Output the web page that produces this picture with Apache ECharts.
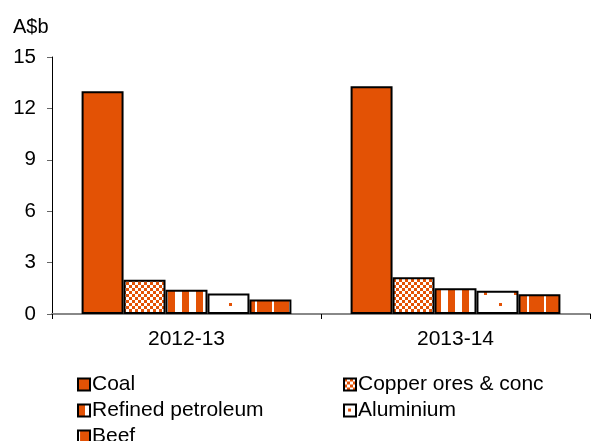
<!DOCTYPE html>
<html>
<head>
<meta charset="utf-8">
<script src="https://cdn.jsdelivr.net/npm/echarts@6/dist/echarts.min.js"></script>
<style>
  html, body { margin: 0; padding: 0; background: #fff; }
  #main { width: 593px; height: 441px; }
</style>
</head>
<body>
<div id="main"></div>
<script>
var years = ['2012-13', '2013-14'];
var coal = [13.0, 13.3];
var copper = [2.0, 2.15];
var petroleum = [1.42, 1.5];
var aluminium = [1.2, 1.35];
var beef = [0.85, 1.15];
var yTicks = [0, 3, 6, 9, 12, 15];

var orange = '#E35205';
var font = 'Liberation Sans, Arial, sans-serif';

function tile(w, h, draw) {
    var c = document.createElement('canvas');
    c.width = w;
    c.height = h;
    var g = c.getContext('2d');
    draw(g);
    return { image: c, repeat: 'repeat' };
}

var coalFill = orange;
var copperFill = tile(12, 12, function (g) {
    g.fillStyle = '#fff';
    g.fillRect(0, 0, 12, 12);
    g.fillStyle = orange;
    for (var i = 0; i < 4; i++) {
        for (var j = 0; j < 4; j++) {
            if ((i + j) % 2 === 0) g.fillRect(i * 3, j * 3, 3, 3);
        }
    }
});
var petroleumFill = tile(14, 14, function (g) {
    g.fillStyle = '#fff';
    g.fillRect(0, 0, 14, 14);
    g.fillStyle = orange;
    g.fillRect(0, 0, 7, 14);
});
var aluminiumFill = tile(30, 24, function (g) {
    g.fillStyle = '#fff';
    g.fillRect(0, 0, 30, 24);
    g.fillStyle = orange;
    g.fillRect(4, 4, 3, 3);
    g.fillRect(19, 15, 3, 3);
});
var beefFill = tile(17, 40, function (g) {
    g.fillStyle = orange;
    g.fillRect(0, 0, 17, 40);
    g.fillStyle = '#fff';
    g.fillRect(0, 0, 2, 40);
});

function bar(name, data, fill) {
    return {
        name: name,
        type: 'bar',
        data: data,
        barGap: '0%',
        barCategoryGap: '22%',
        itemStyle: { color: fill, borderColor: '#000', borderWidth: 2 }
    };
}

function legendItem(name, left, top) {
    return {
        left: left,
        top: top,
        itemWidth: 12,
        itemHeight: 12,
        itemGap: 0,
        icon: 'rect',
        textStyle: { color: '#000', fontSize: 21, fontFamily: font, padding: [0, 0, 0, -3] },
        data: [name]
    };
}

var option = {
    animation: false,
    backgroundColor: '#fff',
    textStyle: { fontFamily: font },
    title: {
        text: 'A$b',
        left: 8,
        top: 12,
        textStyle: { fontSize: 20, fontWeight: 'normal', color: '#000', fontFamily: font }
    },
    grid: { left: 52, right: 3, top: 57, bottom: 127 },
    legend: [
        legendItem('Coal', 72, 369),
        legendItem('Copper ores & conc', 338, 369),
        legendItem('Refined petroleum', 72, 395),
        legendItem('Aluminium', 338, 395),
        legendItem('Beef', 72, 421)
    ],
    xAxis: {
        type: 'category',
        data: years,
        axisLine: { lineStyle: { color: '#888', width: 2 } },
        axisTick: { show: true, length: 5, lineStyle: { color: '#000' } },
        axisLabel: { color: '#000', fontSize: 21, margin: 15 }
    },
    yAxis: {
        type: 'value',
        min: yTicks[0],
        max: yTicks[yTicks.length - 1],
        interval: 3,
        splitLine: { show: false },
        axisLine: { show: true, lineStyle: { color: '#000', width: 1 } },
        axisTick: { show: true, length: 5, lineStyle: { color: '#666' } },
        axisLabel: { color: '#000', fontSize: 20.5, margin: 16 }
    },
    series: [
        bar('Coal', coal, coalFill),
        bar('Copper ores & conc', copper, copperFill),
        bar('Refined petroleum', petroleum, petroleumFill),
        bar('Aluminium', aluminium, aluminiumFill),
        bar('Beef', beef, beefFill)
    ]
};

var chart = echarts.init(document.getElementById('main'));
chart.setOption(option);
</script>
</body>
</html>
